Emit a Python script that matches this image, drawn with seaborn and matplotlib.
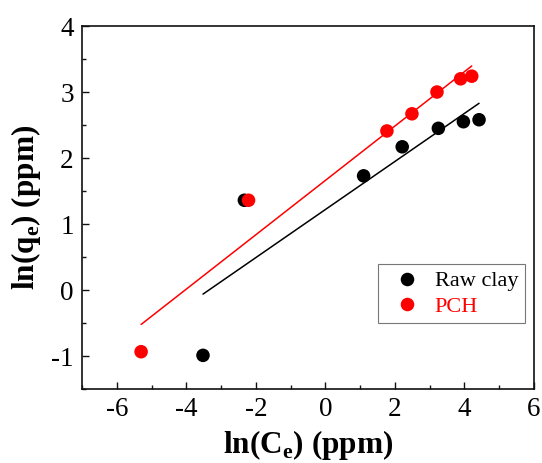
import numpy as np
import pandas as pd
import matplotlib
matplotlib.use("Agg")
import matplotlib.pyplot as plt
import seaborn as sns
from matplotlib.ticker import MultipleLocator

raw_x = [-3.52, -2.33, 1.10, 2.21, 3.25, 3.97, 4.42]
raw_y = [-0.99, 1.36, 1.73, 2.17, 2.45, 2.55, 2.58]
pch_x = [-5.30, -2.21, 1.77, 2.49, 3.21, 3.89, 4.21]
pch_y = [-0.935, 1.36, 2.41, 2.67, 3.00, 3.20, 3.24]
series_names = ["Raw clay", "PCH"]
series_colors = ["#000000", "#ff0000"]
x_ticks = [-6, -4, -2, 0, 2, 4, 6]
y_ticks = [-1, 0, 1, 2, 3, 4]

sns.set_style("ticks")
plt.rcParams['font.family'] = ['Liberation Serif', 'DejaVu Serif']
plt.rcParams['axes.unicode_minus'] = False
plt.rcParams['mathtext.fontset'] = 'custom'
plt.rcParams['mathtext.rm'] = 'Liberation Serif'
plt.rcParams['mathtext.bf'] = 'Liberation Serif:bold'

fig = plt.figure(figsize=(5.42, 4.63), dpi=100)
ax = fig.add_axes([0.1513, 0.1598, 0.8339, 0.784])

df = pd.concat([
    pd.DataFrame({"x": raw_x, "y": raw_y, "s": series_names[0]}),
    pd.DataFrame({"x": pch_x, "y": pch_y, "s": series_names[1]}),
])

for name, col in zip(series_names, series_colors):
    sub = df[df.s == name]
    sns.regplot(data=sub, x="x", y="y", ax=ax, ci=None, scatter=False,
                truncate=True, color=col, line_kws=dict(lw=1.1))
sns.scatterplot(data=df, x="x", y="y", hue="s", palette=series_colors,
                s=95, edgecolor="none", ax=ax, zorder=3, legend=True)

ax.set_xlim(-7, 6)
ax.set_ylim(-1.5, 4)
ax.set_xticks(x_ticks)
ax.set_yticks(y_ticks)
ax.xaxis.set_minor_locator(MultipleLocator(1))
ax.yaxis.set_minor_locator(MultipleLocator(0.5))
ax.tick_params(which='both', direction='in', top=False, right=False,
               labelsize=19.5, width=1.0, colors='#111111', labelcolor='#000000')
ax.tick_params(which='major', length=5, pad=6)
ax.tick_params(which='minor', length=3)
for sp in ax.spines.values():
    sp.set_linewidth(1.2)
    sp.set_color('#111111')

ax.set_xlabel(r"ln(C$_\mathbf{e}$) (ppm)", fontsize=22.5, fontweight='bold', labelpad=4, color='#000000')
ax.set_ylabel(r"ln(q$_\mathbf{e}$) (ppm)", fontsize=22.5, fontweight='bold', labelpad=6, color='#000000')

leg = ax.legend(loc='upper left', bbox_to_anchor=(0.655, 0.344), fontsize=16,
                frameon=True, fancybox=False, edgecolor='#555555',
                handletextpad=0.25, borderpad=0.3, labelspacing=0.22,
                borderaxespad=0, markerscale=1.0, title=None)
leg.get_frame().set_linewidth(0.8)
for txt, col in zip(leg.get_texts(), series_colors):
    txt.set_color(col)

fig.savefig("out.png", dpi=100)
